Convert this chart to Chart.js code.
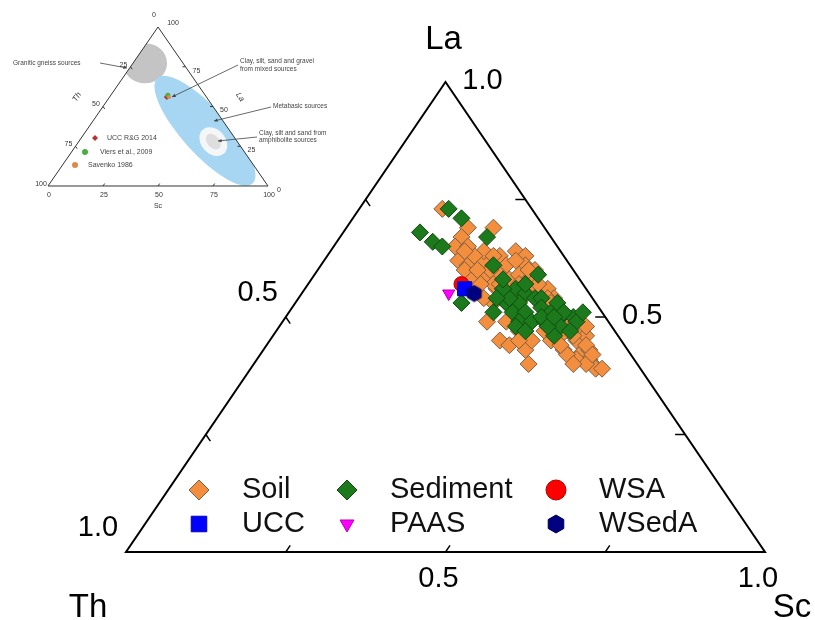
<!DOCTYPE html>
<html>
<head>
<meta charset="utf-8">
<script src="https://cdn.jsdelivr.net/npm/chart.js@4.4.0/dist/chart.umd.min.js"></script>
<style>
  html, body { margin: 0; padding: 0; background: #fff; }
  #wrap { position: relative; width: 815px; height: 620px; }
</style>
</head>
<body>
<div id="wrap"><canvas id="chart" width="815" height="620"></canvas></div>
<script>
// Ternary compositions in % (La, Th, Sc)
const soilLa = [73,69,69,67,65,62,61,62,59,58, 63,64,63,61,61,59,58,59,58,56, 56,57,53,56,54,52,47,50,49,45, 44,43,40,43,45,46,42,41,40,39, 43,41,47,56,64,60,62,60,54,50, 46,42,40,39,48,46,45,56,54,53, 57,58,60,63,57,49,48,48,45,44, 57,55,55,54,47, 65,63,57,60,53,44,45,49,48,42, 40,54,60,64];
const soilTh = [14,12,8,14,16,17,16,13,16,15, 10,7,6,7,10,12,11,9,8,7, 14,14,16,6,6,7,6,14,19,19, 18,16,17,10,7,5,8,7,7,7, 6,9,11,13,12,13,8,6,8,10, 7,10,8,6,7,9,11,9,11,14, 13,17,17,14,16,8,6,10,14,6, 7,10,12,7,15, 14,11,10,7,7,10,16,16,4,6, 10,17,15,15];
const soilSc = [13,19,23,19,19,21,23,25,25,27, 27,29,31,32,29,29,31,32,34,37, 30,29,31,38,40,41,47,36,32,36, 38,41,43,47,48,49,50,52,53,54, 51,50,42,31,24,27,30,34,38,40, 47,48,52,55,45,45,44,35,35,33, 30,25,23,23,27,43,46,42,41,50, 36,35,33,39,38, 21,26,33,33,40,46,39,35,48,52, 50,29,25,21];

const sedLa = [73,71,68,66,65,67,61,53,56,55, 53,53,54,54,51,51,52,51,50,50, 49,49,49,48,46,59,54,57,50,49, 51,56,48,48,47,51,53,54, 47,51,58,50];
const sedTh = [13,12,20,19,18,10,12,21,11,10, 14,12,9,8,14,12,9,8,7,5, 14,12,10,8,10,6,13,9,10,5, 3,13,15,10,7,17,6,15, 14,6,12,8];
const sedSc = [14,17,12,15,17,23,27,26,33,35, 33,35,37,38,35,37,39,41,43,45, 37,39,41,44,44,35,33,34,40,46, 46,31,37,42,46,32,41,31, 39,43,30,42];

// reference compositions
const refNames = ['WSA', 'UCC', 'PAAS', 'WSedA'];
const refLa = [57, 56, 55, 55];
const refTh = [19, 19, 22, 18];
const refSc = [24, 25, 23, 27];

// inset diagram points
const insetNames = ['UCC R&G 2014', 'Viers et al., 2009', 'Savenko 1986'];
const insetLa = [56, 57, 56];
const insetTh = [18, 17, 17];
const insetSc = [26, 26, 27];

const tickVals = [25, 50, 75];
const labelVals = [50, 100];
const labelText = ['0.5', '1.0'];
const insetTicks = [0, 25, 50, 75, 100];

const FONT = '"Liberation Sans", Arial, sans-serif';

function toXY(la, th, sc) {
  const s = la + th + sc;
  return { x: (sc + la / 2) / s, y: la / s };
}
function series(la, th, sc) {
  return la.map((v, i) => toXY(v, th[i], sc[i]));
}

function hexagon(r, fill, stroke) {
  const c = document.createElement('canvas');
  c.width = c.height = 2 * r + 2;
  const g = c.getContext('2d');
  g.beginPath();
  for (let i = 0; i < 6; i++) {
    const a = Math.PI / 6 + i * Math.PI / 3;
    g.lineTo(r + 1 + r * Math.cos(a), r + 1 + r * Math.sin(a));
  }
  g.closePath();
  g.fillStyle = fill;
  g.fill();
  g.strokeStyle = stroke;
  g.stroke();
  return c;
}

const hexPlot = hexagon(8, '#000080', '#00004a');
const hexLegend = hexagon(9, '#000080', '#00004a');

function arrow(ctx, x1, y1, x2, y2) {
  ctx.beginPath();
  ctx.moveTo(x1, y1);
  ctx.lineTo(x2, y2);
  ctx.stroke();
  const a = Math.atan2(y2 - y1, x2 - x1);
  ctx.beginPath();
  ctx.moveTo(x2, y2);
  ctx.lineTo(x2 - 4 * Math.cos(a - 0.45), y2 - 4 * Math.sin(a - 0.45));
  ctx.lineTo(x2 - 4 * Math.cos(a + 0.45), y2 - 4 * Math.sin(a + 0.45));
  ctx.closePath();
  ctx.fill();
}

// triangle frame, ticks, labels and the inset diagram
const ternaryFrame = {
  id: 'ternaryFrame',
  beforeDatasetsDraw(chart) {
    const ctx = chart.ctx;
    const sx = chart.scales.x, sy = chart.scales.y;
    const P = (la, th, sc) => {
      const p = toXY(la, th, sc);
      return [sx.getPixelForValue(p.x), sy.getPixelForValue(p.y)];
    };
    ctx.save();
    ctx.strokeStyle = '#000';
    ctx.fillStyle = '#000';
    ctx.lineWidth = 2;
    const A = P(100, 0, 0), B = P(0, 100, 0), C = P(0, 0, 100);
    ctx.beginPath();
    ctx.moveTo(A[0], A[1]); ctx.lineTo(B[0], B[1]); ctx.lineTo(C[0], C[1]); ctx.closePath();
    ctx.stroke();

    const tick = (p, q, len) => {
      const dx = q[0] - p[0], dy = q[1] - p[1], d = Math.hypot(dx, dy);
      ctx.beginPath();
      ctx.moveTo(p[0], p[1]);
      ctx.lineTo(p[0] + dx / d * len, p[1] + dy / d * len);
      ctx.stroke();
    };
    ctx.lineWidth = 1.5;
    tickVals.forEach(v => {
      tick(P(0, 100 - v, v), P(10, 90 - v, v), 8);     // Sc along base
      tick(P(v, 0, 100 - v), P(v, 10, 90 - v), 10);    // La along right edge
      tick(P(100 - v, v, 0), P(90 - v, v, 10), 8);     // Th along left edge
    });

    ctx.font = '29px ' + FONT;
    ctx.textAlign = 'center';
    ctx.textBaseline = 'middle';
    labelVals.forEach((v, i) => {
      const b = P(0, 100 - v, v);
      ctx.fillText(labelText[i], b[0] - 7, b[1] + 27);
      const r = P(v, 0, 100 - v);
      ctx.fillText(labelText[i], r[0] + 37, r[1] - 1);
      const l = P(100 - v, v, 0);
      ctx.fillText(labelText[i], l[0] - 28, l[1] - 24);
    });
    ctx.font = '33px ' + FONT;
    ctx.fillText('La', A[0] - 2, A[1] - 42);
    ctx.fillText('Th', B[0] - 38, B[1] + 56);
    ctx.fillText('Sc', C[0] + 27, C[1] + 56);

    // ---- inset diagram ----
    const ix = chart.scales.xi, iy = chart.scales.yi;
    const Q = (la, th, sc) => {
      const p = toXY(la, th, sc);
      return [ix.getPixelForValue(p.x), iy.getPixelForValue(p.y)];
    };
    const a = Q(100, 0, 0), b = Q(0, 100, 0), c = Q(0, 0, 100);
    ctx.save();
    ctx.beginPath();
    ctx.moveTo(a[0], a[1]); ctx.lineTo(b[0], b[1]); ctx.lineTo(c[0], c[1]); ctx.closePath();
    ctx.clip();
    let g = Q(77.2, 17.3, 5.5);
    ctx.fillStyle = '#c4c4c4';
    ctx.beginPath(); ctx.ellipse(g[0], g[1], 22, 20, 0, 0, Math.PI * 2); ctx.fill();
    g = Q(34.7, 11.3, 54);
    ctx.fillStyle = 'rgb(166,214,242)';
    ctx.beginPath(); ctx.ellipse(g[0], g[1], 71, 23, 48 * Math.PI / 180, 0, Math.PI * 2); ctx.fill();
    g = Q(27.9, 10.9, 61.2);
    ctx.fillStyle = '#f5f6f8';
    ctx.beginPath(); ctx.ellipse(g[0], g[1], 16, 12, 48 * Math.PI / 180, 0, Math.PI * 2); ctx.fill();
    ctx.fillStyle = '#dedede';
    ctx.beginPath(); ctx.ellipse(g[0], g[1], 9, 6, 48 * Math.PI / 180, 0, Math.PI * 2); ctx.fill();
    ctx.restore();

    ctx.strokeStyle = '#333';
    ctx.fillStyle = '#333';
    ctx.lineWidth = 1;
    ctx.beginPath();
    ctx.moveTo(a[0], a[1]); ctx.lineTo(b[0], b[1]); ctx.lineTo(c[0], c[1]); ctx.closePath();
    ctx.stroke();
    tickVals.forEach(v => {
      tick(Q(0, 100 - v, v), Q(10, 90 - v, v), 3);
      tick(Q(v, 0, 100 - v), Q(v, 10, 90 - v), 3);
      tick(Q(100 - v, v, 0), Q(90 - v, v, 10), 3);
    });
    ctx.font = '7px ' + FONT;
    insetTicks.forEach(v => {
      let p = Q(0, 100 - v, v);
      ctx.fillText(String(v), p[0] + 1, p[1] + 9);
      if (v > 0) {
        p = Q(100 - v, v, 0);
        ctx.fillText(String(v), p[0] - 7, p[1] - 2);
      }
      if (v < 100) {
        p = Q(v, 0, 100 - v);
        ctx.fillText(String(v), p[0] + 11, p[1] + 4);
      }
    });
    ctx.fillText('0', a[0] - 4, a[1] - 12);
    ctx.fillText('100', a[0] + 15, a[1] - 4);
    ctx.font = 'italic 8px ' + FONT;
    ctx.save(); ctx.translate(77, 97); ctx.rotate(-1.0); ctx.fillText('Th', 0, 0); ctx.restore();
    ctx.save(); ctx.translate(240, 97); ctx.rotate(1.0); ctx.fillText('La', 0, 0); ctx.restore();
    ctx.font = '7px ' + FONT;
    ctx.fillText('Sc', (b[0] + c[0]) / 2, b[1] + 20);

    ctx.textAlign = 'left';
    ctx.font = '6.5px ' + FONT;
    ctx.fillStyle = '#444';
    ctx.fillText('Granitic gneiss sources', 13, 63);
    ctx.fillText('Clay, silt, sand and gravel', 240, 61);
    ctx.fillText('from mixed sources', 240, 69);
    ctx.fillText('Metabasic sources', 273, 106);
    ctx.fillText('Clay, silt and sand from', 259, 133);
    ctx.fillText('amphibolite sources', 259, 140);
    ctx.strokeStyle = '#444';
    ctx.lineWidth = 0.8;
    const pm = Q(56, 17, 27);
    arrow(ctx, 100, 63, 127, 68);
    arrow(ctx, 238, 65, pm[0] + 3, pm[1]);
    arrow(ctx, 271, 107, 214, 121);
    arrow(ctx, 257, 137, 218, 141);
    ctx.restore();
  },
  afterDatasetsDraw(chart) {
    // legend grid inside the triangle, plus inset legend
    const ctx = chart.ctx;
    const ds = chart.data.datasets;
    const byLabel = l => ds.find(d => d.label === l);
    const grid = [['Soil', 'Sediment', 'WSA'], ['UCC', 'PAAS', 'WSedA']];
    const markX = [199, 347, 556], textX = [242, 390, 599], rowY = [490, 524];
    const legendSize = { Soil: 10, Sediment: 10, WSA: 10, UCC: 11, PAAS: 8, WSedA: 9 };
    ctx.save();
    grid.forEach((row, r) => row.forEach((name, c) => {
      const d = byLabel(name);
      ctx.fillStyle = d.backgroundColor;
      ctx.strokeStyle = d.borderColor;
      ctx.lineWidth = 1;
      Chart.helpers.drawPoint(ctx, {
        pointStyle: name === 'WSedA' ? hexLegend : d.pointStyle,
        rotation: d.rotation || 0,
        radius: legendSize[name],
        borderWidth: 1
      }, markX[c], rowY[r]);
      ctx.fillStyle = '#111';
      ctx.font = '29px ' + FONT;
      ctx.textAlign = 'left';
      ctx.textBaseline = 'middle';
      ctx.fillText(name, textX[c], rowY[r]);
    }));
    const insetMark = [[95, 138], [85, 152], [75, 165]];
    const insetText = [107, 100, 88];
    insetNames.forEach((name, i) => {
      const d = byLabel(name);
      ctx.fillStyle = d.backgroundColor;
      ctx.strokeStyle = d.borderColor;
      Chart.helpers.drawPoint(ctx, { pointStyle: d.pointStyle, rotation: 0, radius: 3, borderWidth: 0 }, insetMark[i][0], insetMark[i][1]);
      ctx.fillStyle = '#444';
      ctx.font = '7px ' + FONT;
      ctx.textAlign = 'left';
      ctx.textBaseline = 'middle';
      ctx.fillText(name, insetText[i], insetMark[i][1]);
    });
    ctx.restore();
  }
};

const mainSet = (label, data, style, bg, border, radius, order, extra) => Object.assign({
  label, data, pointStyle: style, backgroundColor: bg, borderColor: border,
  pointRadius: radius, pointHoverRadius: radius, borderWidth: 1, order,
  xAxisID: 'x', yAxisID: 'y'
}, extra || {});

const refData = refNames.map((n, i) => [toXY(refLa[i], refTh[i], refSc[i])]);
const insetData = insetNames.map((n, i) => [toXY(insetLa[i], insetTh[i], insetSc[i])]);

new Chart(document.getElementById('chart'), {
  type: 'scatter',
  data: {
    datasets: [
      mainSet('Soil', series(soilLa, soilTh, soilSc), 'rectRot', 'rgb(242,142,62)', 'rgb(125,95,70)', 8.5, 10),
      mainSet('Sediment', series(sedLa, sedTh, sedSc), 'rectRot', 'rgb(28,122,28)', 'rgb(15,75,15)', 8.5, 9),
      mainSet('WSA', refData[0], 'circle', '#ff0000', '#b00000', 7.5, 8),
      mainSet('UCC', refData[1], 'rect', '#0000ff', '#0000b0', 10, 7),
      mainSet('PAAS', refData[2], 'triangle', '#ff00ff', '#b000b0', 7, 6, { rotation: 180 }),
      mainSet('WSedA', refData[3], hexPlot, '#000080', '#00004a', 8, 5),
      { label: insetNames[0], data: insetData[0], pointStyle: 'rectRot', backgroundColor: '#b8322a', borderColor: '#b8322a', pointRadius: 3, borderWidth: 0, order: 3, xAxisID: 'xi', yAxisID: 'yi' },
      { label: insetNames[1], data: insetData[1], pointStyle: 'circle', backgroundColor: '#49b040', borderColor: '#49b040', pointRadius: 2.5, borderWidth: 0, order: 2, xAxisID: 'xi', yAxisID: 'yi' },
      { label: insetNames[2], data: insetData[2], pointStyle: 'circle', backgroundColor: '#e0884a', borderColor: '#e0884a', pointRadius: 2, borderWidth: 0, order: 1, xAxisID: 'xi', yAxisID: 'yi' }
    ]
  },
  options: {
    responsive: false,
    animation: false,
    events: [],
    // fixed padding (>= largest point radius + border) so the chart area is known
    layout: { padding: 12 },
    plugins: { legend: { display: false }, tooltip: { enabled: false } },
    scales: {
      x: { type: 'linear', display: false, min: -0.17840, max: 1.05947 },
      y: { type: 'linear', display: false, min: -0.11915, max: 1.14894 },
      xi: { type: 'linear', display: false, axis: 'x', min: -0.16364, max: 3.43181 },
      yi: { type: 'linear', display: false, axis: 'y', min: -2.65409, max: 1.09434 }
    }
  },
  plugins: [ternaryFrame]
});
</script>
</body>
</html>
